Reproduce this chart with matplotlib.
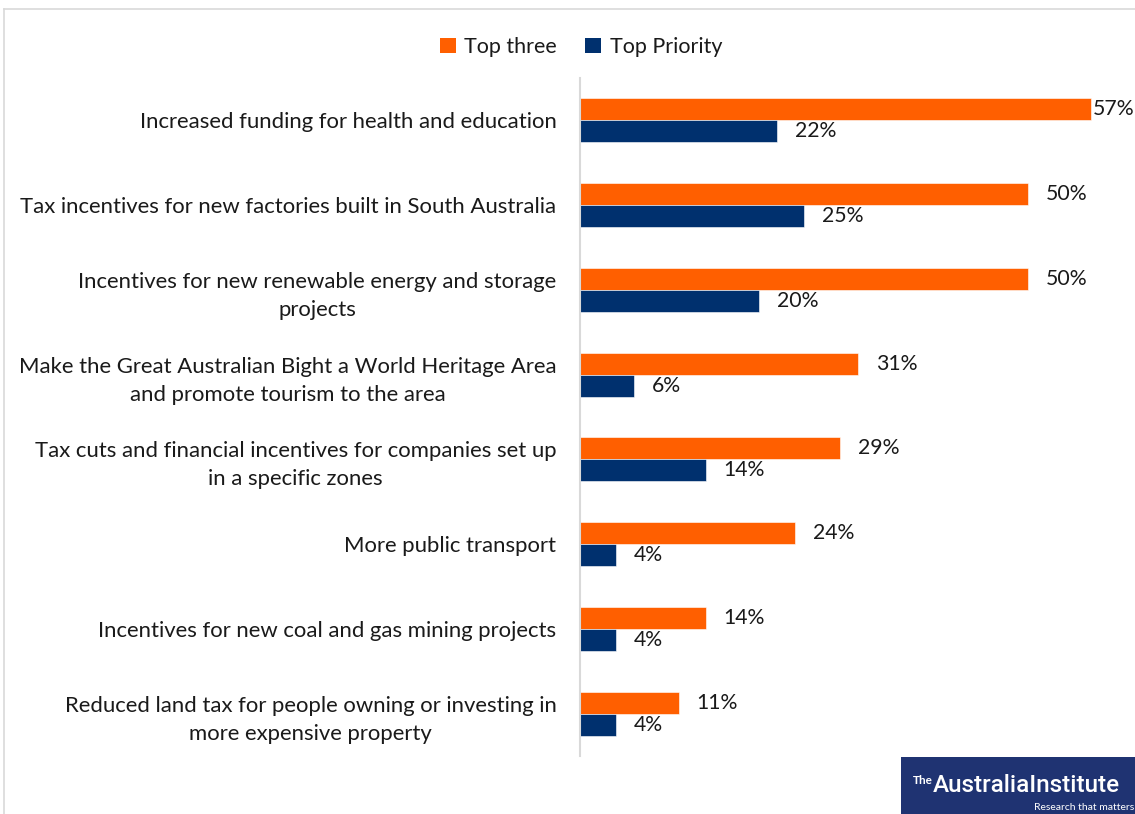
import matplotlib
matplotlib.use("Agg")
import matplotlib.pyplot as plt
from matplotlib.patches import Rectangle, Patch
from matplotlib.lines import Line2D
import numpy as np

categories = [
    "Increased funding for health and education",
    "Tax incentives for new factories built in South Australia",
    "Incentives for new renewable energy and storage\nprojects",
    "Make the Great Australian Bight a World Heritage Area\nand promote tourism to the area",
    "Tax cuts and financial incentives for companies set up\nin a specific zones",
    "More public transport",
    "Incentives for new coal and gas mining projects",
    "Reduced land tax for people owning or investing in\nmore expensive property",
]
top_three = [57, 50, 50, 31, 29, 24, 14, 11]
top_priority = [22, 25, 20, 6, 14, 4, 4, 4]
series_names = ["Top three", "Top Priority"]

ORANGE = "#FF5F00"
NAVY = "#00306E"
FONT = "Lato"
plt.rcParams["font.family"] = [FONT, "DejaVu Sans"]

W, H = 1135, 814
fig = plt.figure(figsize=(W / 100, H / 100), dpi=100)

def fx(px):
    return px / W

def fy(py):
    return 1 - py / H

ax_left, ax_right, ax_top, ax_bot = 580, 1118, 78, 756
ax = fig.add_axes([fx(ax_left), fy(ax_bot), fx(ax_right - ax_left), (ax_bot - ax_top) / H])

y = np.arange(len(categories))
bh = 0.259
ax.barh(y - bh / 2, top_three, height=bh, color=ORANGE, edgecolor="white", linewidth=0.4)
ax.barh(y + bh / 2, top_priority, height=bh, color=NAVY, edgecolor="white", linewidth=0.4)
ax.set_xlim(0, 60)
ax.set_ylim(len(categories) - 0.5, -0.5)

for s in ["top", "right", "bottom"]:
    ax.spines[s].set_visible(False)
ax.spines["left"].set_color("#D9D9D9")
ax.spines["left"].set_linewidth(1.5)
ax.set_xticks([])
ax.set_yticks(y)
ax.set_yticklabels(categories, fontsize=15.9, color="#1a1a1a", linespacing=1.5, ha="right")
ax.tick_params(axis="y", length=0, pad=17)
for lbl in ax.get_yticklabels():
    lbl.set_multialignment("center")

fs = 15.3
for i, (a, b) in enumerate(zip(top_three, top_priority)):
    xa = min(a + 2.0, 57.2)
    ax.text(xa, i - bh / 2, f"{a}%", va="center", ha="left", fontsize=fs, color="#1a1a1a", clip_on=False)
    ax.text(b + 2.0, i + bh / 2, f"{b}%", va="center", ha="left", fontsize=fs, color="#1a1a1a", clip_on=False)

# legend
handles = [Patch(facecolor=ORANGE, edgecolor="none"), Patch(facecolor=NAVY, edgecolor="none")]
fig.legend(handles, series_names, loc="center", bbox_to_anchor=(fx(581), fy(47)), ncol=2,
           frameon=False, fontsize=15.5, handlelength=0.75, handleheight=0.75,
           handletextpad=0.4, columnspacing=1.3, labelcolor="#1a1a1a")

# chart border
fig.add_artist(Line2D([fx(4), 1], [fy(9), fy(9)], color="#D9D9D9", lw=1.2, transform=fig.transFigure))
fig.add_artist(Line2D([fx(4), fx(4)], [fy(9), 0], color="#D9D9D9", lw=1.2, transform=fig.transFigure))

# logo
fig.add_artist(Rectangle((fx(901), 0), 1 - fx(901), fy(757), facecolor="#1F3372",
                         edgecolor="none", transform=fig.transFigure))
fig.text(fx(913), fy(780), "The", fontsize=8.5, color="white", ha="left", va="center", fontweight="bold")
fig.text(fx(933), fy(785), "AustraliaInstitute", fontsize=17.5, color="white", ha="left", va="center",
         fontweight="medium", family=["Roboto", "DejaVu Sans"])
fig.text(fx(1134), fy(808), "Research that matters", fontsize=7.5, color="white", ha="right", va="center")

fig.savefig("out.png", dpi=100)
